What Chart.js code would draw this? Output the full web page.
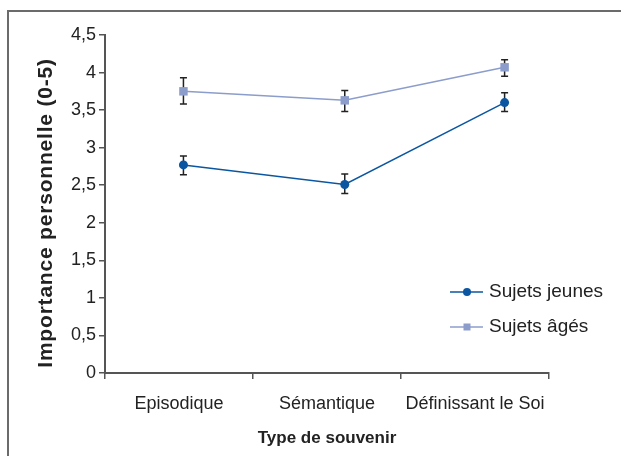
<!DOCTYPE html>
<html lang="fr">
<head>
<meta charset="utf-8">
<title>Importance personnelle par type de souvenir</title>
<script src="https://cdn.jsdelivr.net/npm/chart.js@4.4.1/dist/chart.umd.min.js"></script>
<style>
  html, body { margin: 0; padding: 0; background: #fff; }
  #wrap { position: relative; width: 621px; height: 456px; }
</style>
</head>
<body>
<div id="wrap"><canvas id="chart" width="621" height="456"></canvas></div>
<script>
// categories and tick labels
const categories = ["Episodique", "Sémantique", "Définissant le Soi"];
const yTicks = [0, 0.5, 1, 1.5, 2, 2.5, 3, 3.5, 4, 4.5];
// points sit a little right of the band centres in the original
const pointPos = [0.53, 1.62, 2.70];

// Sujets jeunes
const jeunesMean = [2.77, 2.51, 3.60];
const jeunesLow = [2.64, 2.39, 3.48];
const jeunesHigh = [2.89, 2.65, 3.73];

// Sujets âgés
const agesMean = [3.75, 3.63, 4.07];
const agesLow = [3.58, 3.48, 3.95];
const agesHigh = [3.93, 3.76, 4.17];

const seriesNames = ["Sujets jeunes", "Sujets âgés"];
const yTitle = "Importance personnelle (0-5)";
const xTitle = "Type de souvenir";

const colJeunes = "#0b56a0";
const colAges = "#8c9dcc";
const axisCol = "#555555";
const textCol = "#222222";
const FONT = "'Liberation Sans', Arial, sans-serif";

function pts(means) {
  return means.map((v, i) => ({ x: pointPos[i], y: v }));
}

const frame = {
  id: "frame",
  beforeDraw(chart) {
    const ctx = chart.ctx;
    ctx.save();
    ctx.strokeStyle = "#6b6b6b";
    ctx.lineWidth = 2;
    ctx.beginPath();
    ctx.moveTo(8, chart.height);
    ctx.lineTo(8, 11);
    ctx.lineTo(chart.width, 11);
    ctx.stroke();
    ctx.restore();
  }
};

// vertical axis title, drawn by hand so it can run the full axis height
const yTitlePlugin = {
  id: "yTitle",
  afterDraw(chart) {
    const ctx = chart.ctx;
    const a = chart.chartArea;
    ctx.save();
    ctx.translate(46, (a.top + a.bottom) / 2 + 9);
    ctx.rotate(-Math.PI / 2);
    ctx.font = "bold 21px " + FONT;
    if ("letterSpacing" in ctx) ctx.letterSpacing = "0.8px";
    ctx.fillStyle = textCol;
    ctx.textAlign = "center";
    ctx.textBaseline = "middle";
    ctx.fillText(yTitle, 0, 0);
    ctx.restore();
  }
};

const errorBars = {
  id: "errorBars",
  beforeDatasetsDraw(chart) {
    const ctx = chart.ctx;
    const xs = chart.scales.xp;
    const ys = chart.scales.y;
    const sets = [[jeunesLow, jeunesHigh], [agesLow, agesHigh]];
    ctx.save();
    ctx.strokeStyle = "#222";
    ctx.lineWidth = 1.5;
    sets.forEach(([lo, hi]) => {
      lo.forEach((l, i) => {
        const x = xs.getPixelForValue(pointPos[i]);
        const y1 = ys.getPixelForValue(l);
        const y2 = ys.getPixelForValue(hi[i]);
        ctx.beginPath();
        ctx.moveTo(x, y1); ctx.lineTo(x, y2);
        ctx.moveTo(x - 3.5, y1); ctx.lineTo(x + 3.5, y1);
        ctx.moveTo(x - 3.5, y2); ctx.lineTo(x + 3.5, y2);
        ctx.stroke();
      });
    });
    ctx.restore();
  }
};

const legendBox = {
  id: "legendBox",
  afterDraw(chart) {
    const ctx = chart.ctx;
    const a = chart.chartArea;
    const x0 = a.right - 99;
    const rows = [
      { y: a.top + 257, col: colJeunes, style: "circle" },
      { y: a.top + 292, col: colAges, style: "rect" }
    ];
    ctx.save();
    rows.forEach((r, i) => {
      ctx.strokeStyle = r.col;
      ctx.fillStyle = r.col;
      ctx.lineWidth = 1.5;
      ctx.beginPath();
      ctx.moveTo(x0, r.y); ctx.lineTo(x0 + 33, r.y);
      ctx.stroke();
      ctx.beginPath();
      if (r.style === "circle") ctx.arc(x0 + 17, r.y, 4, 0, Math.PI * 2);
      else ctx.rect(x0 + 13.5, r.y - 3.5, 7, 7);
      ctx.fill();
      ctx.fillStyle = textCol;
      ctx.font = "19px " + FONT;
      ctx.textAlign = "left";
      ctx.textBaseline = "middle";
      ctx.fillText(seriesNames[i], x0 + 39, r.y);
    });
    ctx.restore();
  }
};

new Chart(document.getElementById("chart"), {
  type: "line",
  data: {
    labels: categories,
    datasets: [
      {
        label: seriesNames[0],
        data: pts(jeunesMean),
        xAxisID: "xp",
        borderColor: colJeunes,
        backgroundColor: colJeunes,
        borderWidth: 1.5,
        pointStyle: "circle",
        pointRadius: 4.5,
        pointBorderWidth: 0,
        tension: 0
      },
      {
        label: seriesNames[1],
        data: pts(agesMean),
        xAxisID: "xp",
        borderColor: colAges,
        backgroundColor: colAges,
        borderWidth: 1.5,
        pointStyle: "rect",
        pointRadius: 6,
        pointBorderWidth: 0,
        tension: 0
      }
    ]
  },
  plugins: [frame, errorBars, legendBox, yTitlePlugin],
  options: {
    responsive: false,
    animation: false,
    layout: { padding: { left: 30, right: 72, top: 35, bottom: 0 } },
    plugins: {
      legend: { display: false },
      tooltip: { enabled: false }
    },
    scales: {
      x: {
        type: "category",
        offset: true,
        grid: { offset: true, drawOnChartArea: false, drawTicks: true, tickLength: 6, color: axisCol, lineWidth: 1.5 },
        border: { color: axisCol, width: 2 },
        ticks: { color: textCol, font: { family: FONT, size: 18 }, padding: 14, maxRotation: 0 },
        title: {
          display: true,
          text: xTitle,
          color: textCol,
          font: { family: FONT, size: 17, weight: "bold" },
          padding: { top: 4, bottom: 7 }
        },
        afterFit(scale) { scale.height = 83; }
      },
      xp: {
        type: "linear",
        display: false,
        min: 0,
        max: 3
      },
      y: {
        min: 0,
        max: 4.5,
        afterBuildTicks(scale) { scale.ticks = yTicks.map(v => ({ value: v })); },
        grid: { drawOnChartArea: false, drawTicks: true, tickLength: 6, color: axisCol, lineWidth: 1.5 },
        border: { color: axisCol, width: 2 },
        ticks: {
          color: textCol,
          font: { family: FONT, size: 18 },
          padding: 3,
          callback: (v) => String(v).replace(".", ",")
        },
        title: { display: false },
        afterFit(scale) { scale.width = 75; }
      }
    }
  }
});
</script>
</body>
</html>
